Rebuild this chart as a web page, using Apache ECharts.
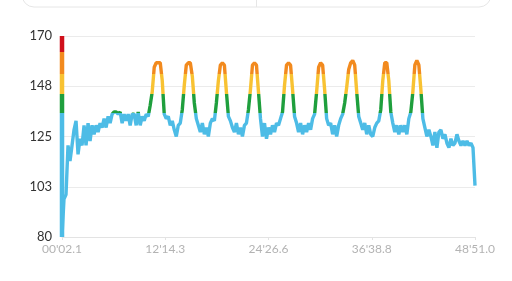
<!DOCTYPE html>
<html>
<head>
<meta charset="utf-8">
<script src="https://cdn.jsdelivr.net/npm/echarts@6/dist/echarts.min.js"></script>
<style>html,body{margin:0;padding:0;background:#fff;}#c{width:512px;height:281px;}</style>
</head>
<body>
<div id="c"></div>
<script>
// elapsed time (s) of first and last samples
const startTime = 2.1;
const endTime = 2931.0;
// heart rate (bpm), evenly spaced samples from start to end
const heartRate = [
80,97,99,121,114,121,128,132,117,124,121,130,121,131,123,130,126,130,127,131,
129,133,129,134,131,135,136,136,135,136,131,135,132,135,130,135,135,130,136,130,
134,132,135,134,139,145,156,158,158,158,150,135,133,134,130,132,128,125,130,131,
137,148,157,158,158,152,140,133,130,127,131,126,129,125,131,133,132,140,150,157,
158,157,145,134,132,129,127,131,126,129,125,130,131,137,146,157,158,157,145,133,
125,131,124,129,126,130,127,131,130,133,136,148,157,158,157,146,134,131,127,131,
126,130,127,131,128,133,135,145,156,158,157,146,133,130,131,126,130,125,130,133,
135,140,147,155,158,159,157,145,134,131,128,131,126,130,126,125,129,131,132,137,
150,158,158,150,136,131,127,130,126,130,127,130,126,133,136,145,157,159,157,146,
133,129,125,128,125,121,127,120,127,128,124,126,122,120,124,121,122,126,123,121,
123,121,123,121,122,120,103
];
// x tick labels (mm'ss.s)
const xTickLabels = ["00'02.1", "12'14.3", "24'26.6", "36'38.8", "48'51.0"];
// y range and tick step
const yMin = 80, yMax = 170, yStep = 22.5;
// heart-rate zone boundaries (bpm) and colours
const zoneBounds = [135.5, 144, 153, 163];
const zoneColors = ['#4dbce6', '#1f9f3d', '#f8c232', '#f28a1e', '#d0101b'];

const duration = endTime - startTime;
const xStep = duration / (xTickLabels.length - 1);
const lineData = heartRate.map((v, i) => [i * duration / (heartRate.length - 1), v]);
const barData = [[0, yMin], [0, yMax]];

const pieces = [
  { lt: zoneBounds[0], color: zoneColors[0] },
  { gte: zoneBounds[0], lt: zoneBounds[1], color: zoneColors[1] },
  { gte: zoneBounds[1], lt: zoneBounds[2], color: zoneColors[2] },
  { gte: zoneBounds[2], lt: zoneBounds[3], color: zoneColors[3] },
  { gte: zoneBounds[3], color: zoneColors[4] }
];

const chart = echarts.init(document.getElementById('c'), null, { renderer: 'canvas' });
chart.setOption({
  animation: false,
  backgroundColor: '#fff',
  grid: { left: 62, right: 37, top: 36, bottom: 44 },
  graphic: [
    { type: 'rect', shape: { x: 22, y: -30, width: 469, height: 37, r: 12 },
      style: { fill: 'none', stroke: '#e6e6e6', lineWidth: 1 }, silent: true },
    { type: 'line', shape: { x1: 256.5, y1: 0, x2: 256.5, y2: 7 },
      style: { stroke: '#e6e6e6', lineWidth: 1 }, silent: true }
  ],
  xAxis: {
    type: 'value', min: 0, max: duration, interval: xStep,
    axisLine: { show: true, lineStyle: { color: '#e3e3e3', width: 1 } },
    axisTick: { show: true, length: 3, lineStyle: { color: '#e3e3e3' } },
    splitLine: { show: false },
    axisLabel: {
      color: '#b3b3b3', fontSize: 12, fontFamily: 'Lato', margin: 6,
      formatter: v => xTickLabels[Math.round(v / xStep)] || ''
    }
  },
  yAxis: {
    type: 'value', min: yMin, max: yMax, interval: yStep,
    axisLine: { show: false }, axisTick: { show: false },
    splitLine: { show: true, lineStyle: { color: '#ebebeb', width: 1 } },
    axisLabel: {
      color: '#333', fontSize: 13, fontFamily: 'Lato', margin: 10,
      formatter: v => String(Math.round(v))
    }
  },
  visualMap: {
    show: false, type: 'piecewise', dimension: 1, seriesIndex: [0, 1], pieces: pieces
  },
  series: [
    { type: 'line', data: lineData, symbol: 'none', lineStyle: { width: 3.4 }, z: 2 },
    { type: 'line', data: barData, symbol: 'none', lineStyle: { width: 4.5 }, clip: false, z: 3 }
  ]
});
</script>
</body>
</html>
